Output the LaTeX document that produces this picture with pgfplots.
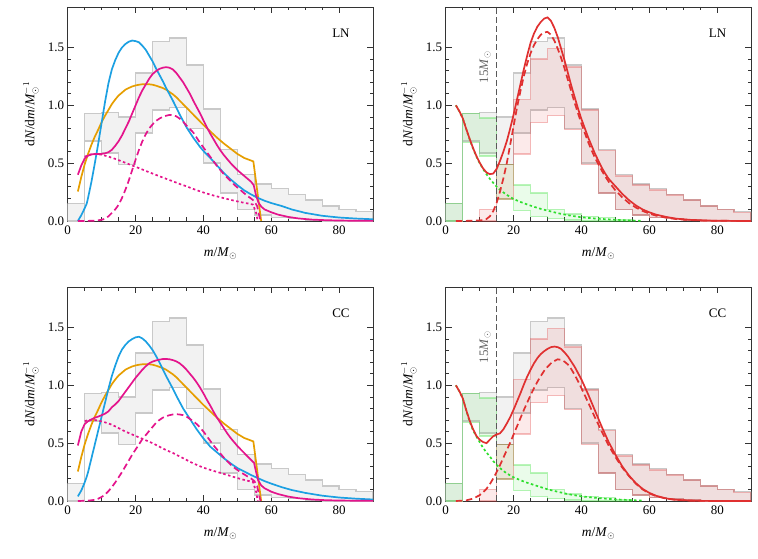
\documentclass[border=0pt]{standalone}
\usepackage{fontspec}
\setmainfont{Liberation Serif}
\usepackage{pgfplots}
\pgfplotsset{compat=1.18}
\usepackage{pgfplotstable}

\definecolor{cblue}{RGB}{28,160,226}
\definecolor{corange}{RGB}{230,158,0}
\definecolor{cmag}{RGB}{228,20,140}
\definecolor{cred}{RGB}{224,48,48}
\definecolor{cgreen}{RGB}{45,222,45}

\pgfplotstableread{
x y
0 0.15
5 0.15
5 0.93
10 0.93
10 0.94
15 0.94
15 0.90
20 0.90
20 1.28
25 1.28
25 1.55
30 1.55
30 1.58
35 1.58
35 1.35
40 1.35
40 0.97
45 0.97
45 0.62
50 0.62
50 0.40
55 0.40
55 0.32
60 0.32
60 0.28
65 0.28
65 0.23
70 0.23
70 0.18
75 0.18
75 0.13
80 0.13
80 0.10
85 0.10
85 0.08
90 0.08
90 0
75 0
75 0.01
70 0.01
70 0.02
65 0.02
65 0.03
60 0.03
60 0.05
55 0.05
55 0.10
50 0.10
50 0.24
45 0.24
45 0.50
40 0.50
40 0.80
35 0.80
35 0.98
30 0.98
30 0.96
25 0.96
25 0.76
20 0.76
20 0.49
15 0.49
15 0.59
10 0.59
10 0.69
5 0.69
5 0
0 0
}\histgray

\pgfplotstableread{
x y
0 0.15
5 0.15
5 0.93
10 0.93
10 0.89
15 0.89
15 0.49
20 0.49
20 0.31
25 0.31
25 0.24
30 0.24
30 0.10
35 0.10
35 0.06
40 0.06
40 0.04
45 0.04
45 0.03
50 0.03
50 0.015
55 0.015
55 0
40 0
40 0.01
35 0.01
35 0.02
30 0.02
30 0.04
25 0.04
25 0.09
20 0.09
20 0.19
15 0.19
15 0.56
10 0.56
10 0.68
5 0.68
5 0
0 0
}\histgreen

\pgfplotstableread{
x y
10 0.10
15 0.10
15 0.49
20 0.49
20 1.05
25 1.05
25 1.40
30 1.40
30 1.49
35 1.49
35 1.33
40 1.33
40 0.96
45 0.96
45 0.61
50 0.61
50 0.39
55 0.39
55 0.31
60 0.31
60 0.27
65 0.27
65 0.225
70 0.225
70 0.18
75 0.18
75 0.13
80 0.13
80 0.10
85 0.10
85 0.075
90 0.075
90 0
75 0
75 0.01
70 0.01
70 0.02
65 0.02
65 0.03
60 0.03
60 0.05
55 0.05
55 0.10
50 0.10
50 0.24
45 0.24
45 0.49
40 0.49
40 0.79
35 0.79
35 0.91
30 0.91
30 0.85
25 0.85
25 0.58
20 0.58
20 0.19
15 0.19
15 0
10 0
}\histred

\pgfplotstableread{
x y
3 0.255
4 0.38
5 0.49
6 0.58
7 0.66
8 0.73
9 0.79
10 0.855
11 0.91
12 0.96
13 1.01
14 1.05
15 1.085
16 1.11
17 1.135
18 1.15
19 1.163
20 1.172
21 1.178
22 1.182
23 1.183
24 1.182
25 1.178
26 1.17
27 1.16
28 1.15
29 1.135
30 1.115
31 1.095
32 1.07
33 1.04
34 1.01
35 0.98
36 0.95
37 0.92
38 0.89
39 0.86
40 0.83
42 0.775
44 0.72
46 0.67
48 0.625
50 0.58
52 0.545
54.7 0.515
57 0
}\orange

\pgfplotsset{
 panel/.style={
  scale only axis, width=305.5pt, height=214pt,
  xmin=0, xmax=90, ymin=0, ymax=1.85,
  xtick={0,20,40,60,80}, minor x tick num=3,
  ytick={0,0.5,1,1.5}, minor y tick num=4,
  tick align=inside,
  major tick length=6pt, minor tick length=3.5pt,
  tick style={draw=black!80, line width=0.6pt},
  axis line style={draw=black!80, line width=0.8pt},
  tick label style={font=\fontsize{13}{15}\selectfont},
  /pgf/number format/assume math mode=true,
  yticklabel style={/pgf/number format/fixed, /pgf/number format/fixed zerofill, /pgf/number format/precision=1},
  xticklabel style={yshift=-1pt},
  xlabel={\textit{m}/\textit{M}$_{\odot}$},
  ylabel={d\textit{N}/d\textit{m}/\textit{M}$_{\odot}^{-1}$},
  label style={font=\fontsize{13.5}{15}\selectfont},
  xlabel style={at={(axis description cs:0.5,-0.15)}, anchor=center},
  ylabel style={at={(axis description cs:-0.12,0.5)}, anchor=center},
 },
 hgray/.style={draw=black!21, fill=black!5, line width=1.5pt},
 hgreen/.style={draw=cgreen, draw opacity=0.33, fill=cgreen, fill opacity=0.1, line width=1.5pt},
 hred/.style={draw=cred, draw opacity=0.3, fill=cred, fill opacity=0.1, line width=1.5pt},
 cur/.style={line width=1.7pt, mark=none},
 dsh/.style={dash pattern=on 6.5pt off 3.5pt},
 dtt/.style={dash pattern=on 2.5pt off 2.5pt},
 vline/.style={draw=black!65, line width=1pt, dash pattern=on 6pt off 3pt},
}

\begin{document}
\begin{tikzpicture}
\path[use as bounding box] (0,0) rectangle (758pt,558pt);

% ---------------- top left (LN)
\begin{axis}[panel, at={(67.7pt,337pt)}, anchor=south west]
\addplot[hgray] table {\histgray} -- cycle;
\addplot[cur, corange] table {\orange};
\addplot[cur, cblue] coordinates {(3,0) (4,0.05) (5,0.11) (5.6,0.15) (6,0.2) (7,0.34) (8,0.5) (9,0.67) (10,0.85) (11,1.03) (12,1.19) (13,1.31) (14,1.39) (15,1.455) (16,1.5) (17,1.53) (18,1.55) (19,1.56) (20,1.555) (21,1.545) (22,1.515) (23,1.48) (24,1.43) (25,1.38) (26,1.32) (27,1.265) (28,1.21) (29,1.15) (30,1.095) (31,1.04) (32,0.98) (33,0.92) (34,0.865) (35,0.81) (36,0.765) (37,0.72) (38,0.68) (39,0.64) (40,0.605) (42,0.545) (44,0.48) (46,0.415) (48,0.36) (50,0.31) (52,0.265) (54,0.23) (56,0.2) (58,0.175) (60,0.155) (63,0.13) (66,0.1) (70,0.07) (75,0.045) (80,0.03) (85,0.021) (90,0.015)};
\addplot[cur, cmag, dtt] coordinates {(5,0.555) (6,0.57) (7,0.577) (8,0.578) (9,0.577) (10,0.573) (11,0.565) (12,0.557) (13,0.547) (14,0.537) (15,0.526) (17,0.503) (19,0.48) (21,0.457) (23,0.433) (25,0.41) (27,0.387) (29,0.365) (31,0.343) (33,0.32) (35,0.3) (37,0.277) (39,0.256) (41,0.237) (43,0.22) (45,0.205) (47,0.19) (49,0.176) (51,0.163) (53,0.152) (54.6,0.142) (55.5,0.07) (56,0)};
\addplot[cur, cmag, dsh] coordinates {(3,0) (6,0.001) (8,0.003) (10,0.01) (11,0.02) (12,0.04) (13,0.07) (14,0.1) (15,0.14) (16,0.2) (17,0.27) (18,0.35) (19,0.44) (20,0.53) (21,0.615) (22,0.69) (23,0.75) (24,0.8) (25,0.835) (26,0.865) (27,0.885) (28,0.9) (29,0.91) (30,0.917) (31,0.915) (32,0.905) (33,0.885) (34,0.86) (35,0.825) (36,0.795) (37,0.765) (38,0.72) (39,0.675) (40,0.635) (41,0.595) (42,0.555) (43,0.515) (44,0.475) (45,0.44) (46,0.405) (47,0.375) (48,0.345) (49,0.315) (50,0.29) (51,0.265) (52,0.24) (53,0.215) (54,0.195) (55,0.17) (55.8,0.13) (56.4,0.05) (56.8,0)};
\addplot[cur, cmag] coordinates {(3,0.40) (4,0.48) (5,0.54) (6,0.565) (7,0.575) (8,0.58) (9,0.58) (10,0.58) (11,0.585) (12,0.595) (13,0.615) (14,0.65) (15,0.69) (16,0.74) (17,0.8) (18,0.86) (19,0.93) (20,1.0) (21,1.07) (22,1.13) (23,1.18) (24,1.23) (25,1.27) (26,1.295) (27,1.315) (28,1.325) (29,1.33) (30,1.325) (31,1.31) (32,1.28) (33,1.24) (34,1.2) (35,1.15) (36,1.1) (37,1.04) (38,0.985) (39,0.93) (40,0.87) (41,0.81) (42,0.755) (43,0.705) (44,0.655) (45,0.61) (46,0.57) (47,0.535) (48,0.5) (49,0.47) (50,0.44) (51,0.415) (52,0.39) (53,0.365) (54,0.34) (54.8,0.31) (55.5,0.22) (56.2,0.16) (57,0.125) (58,0.1) (60,0.075) (62,0.055) (65,0.035) (68,0.022) (72,0.012) (76,0.007) (80,0.004) (85,0.002) (90,0.001)};
\node[font=\fontsize{13}{15}\selectfont] at (axis cs:80.5,1.625) {LN};
\end{axis}

% ---------------- top right (LN)
\begin{axis}[panel, at={(445.7pt,337pt)}, anchor=south west]
\addplot[hgray] table {\histgray} -- cycle;
\addplot[hgreen] table {\histgreen} -- cycle;
\addplot[hred] table {\histred} -- cycle;
\addplot[vline] coordinates {(15,0) (15,1.85)};
\addplot[cur, cgreen, dtt] coordinates {(3,1.0) (4,0.95) (5,0.89) (6,0.8) (7,0.71) (8,0.63) (9,0.56) (10,0.5) (11,0.45) (12,0.405) (13,0.365) (14,0.33) (15,0.297) (16,0.27) (17,0.247) (18,0.226) (20,0.19) (22,0.165) (24,0.143) (26,0.123) (28,0.105) (30,0.09) (33,0.068) (36,0.05) (40,0.032) (45,0.019) (50,0.011) (55,0.004) (58,0.001)};
\addplot[cur, cred, dsh] coordinates {(3,0) (8,0.002) (10,0.005) (11,0.008) (12,0.017) (13,0.04) (14,0.085) (15,0.155) (16,0.255) (17,0.37) (18,0.5) (19,0.66) (20,0.82) (21,0.98) (22,1.12) (23,1.25) (24,1.36) (25,1.45) (26,1.52) (27,1.57) (28,1.61) (29,1.63) (30,1.635) (31,1.61) (32,1.56) (33,1.49) (34,1.41) (35,1.32) (36,1.22) (37,1.12) (38,1.02) (39,0.93) (40,0.84) (41,0.76) (42,0.68) (43,0.61) (44,0.545) (45,0.49) (46,0.435) (47,0.385) (48,0.34) (50,0.265) (52,0.205) (54,0.155) (56,0.117) (58,0.087) (60,0.064) (62,0.046) (65,0.028) (68,0.016) (72,0.008) (76,0.004) (80,0.002) (90,0)};
\addplot[cur, cred] coordinates {(3,1.0) (4,0.95) (5,0.89) (6,0.80) (7,0.715) (8,0.635) (9,0.565) (10,0.505) (11,0.455) (12,0.42) (13,0.405) (14,0.41) (15,0.45) (16,0.52) (17,0.6) (18,0.69) (19,0.8) (20,0.92) (21,1.05) (22,1.18) (23,1.31) (24,1.43) (25,1.54) (26,1.62) (27,1.68) (28,1.72) (29,1.75) (30,1.76) (31,1.73) (32,1.67) (33,1.59) (34,1.49) (35,1.39) (36,1.28) (37,1.17) (38,1.07) (39,0.97) (40,0.88) (41,0.8) (42,0.72) (43,0.65) (44,0.58) (45,0.52) (46,0.46) (47,0.41) (48,0.365) (50,0.3) (52,0.235) (54,0.18) (56,0.135) (58,0.1) (60,0.075) (62,0.055) (65,0.035) (68,0.02) (72,0.01) (76,0.005) (80,0.002) (90,0)};
\node[font=\fontsize{13}{15}\selectfont] at (axis cs:80.1,1.625) {LN};
\node[font=\fontsize{13}{15}\selectfont, text=black!60, rotate=90] at (axis cs:11.6,1.33) {15\textit{M}$_{\odot}$};
\end{axis}

% ---------------- bottom left (CC)
\begin{axis}[panel, at={(67.7pt,57pt)}, anchor=south west]
\addplot[hgray] table {\histgray} -- cycle;
\addplot[cur, corange] table {\orange};
\addplot[cur, cblue] coordinates {(3,0.04) (4,0.09) (5,0.16) (5.6,0.21) (6,0.25) (7,0.37) (8,0.49) (9,0.61) (10,0.73) (11,0.85) (12,0.97) (13,1.08) (14,1.17) (15,1.25) (16,1.31) (17,1.35) (18,1.38) (19,1.4) (20,1.415) (21,1.42) (22,1.405) (23,1.38) (24,1.345) (25,1.305) (26,1.255) (27,1.2) (28,1.14) (29,1.08) (30,1.025) (31,0.97) (32,0.91) (33,0.855) (34,0.8) (35,0.755) (36,0.71) (37,0.665) (38,0.62) (39,0.58) (40,0.54) (42,0.47) (44,0.42) (46,0.37) (48,0.325) (50,0.285) (52,0.255) (54,0.225) (56,0.198) (58,0.172) (60,0.15) (63,0.12) (66,0.095) (70,0.07) (75,0.046) (80,0.03) (85,0.02) (90,0.013)};
\addplot[cur, cmag, dtt] coordinates {(5,0.69) (6,0.7) (7,0.702) (8,0.7) (9,0.695) (10,0.688) (11,0.68) (12,0.67) (13,0.66) (14,0.645) (15,0.63) (17,0.6) (19,0.575) (21,0.55) (23,0.525) (25,0.5) (27,0.47) (29,0.44) (31,0.415) (33,0.385) (35,0.355) (37,0.325) (39,0.3) (41,0.278) (43,0.26) (45,0.243) (47,0.225) (49,0.207) (51,0.19) (53,0.175) (54.6,0.165) (55.5,0.08) (56,0)};
\addplot[cur, cmag, dsh] coordinates {(3,0) (6,0.003) (8,0.01) (9,0.02) (10,0.035) (11,0.055) (12,0.085) (13,0.12) (14,0.16) (15,0.205) (16,0.25) (17,0.3) (18,0.35) (19,0.4) (20,0.445) (21,0.49) (22,0.535) (23,0.57) (24,0.605) (25,0.64) (26,0.675) (27,0.7) (28,0.72) (29,0.733) (30,0.742) (31,0.748) (32,0.75) (33,0.748) (34,0.742) (35,0.73) (36,0.71) (37,0.69) (38,0.665) (39,0.635) (40,0.6) (41,0.56) (42,0.52) (43,0.48) (44,0.445) (45,0.41) (46,0.375) (47,0.345) (48,0.315) (49,0.29) (50,0.268) (51,0.248) (52,0.23) (53,0.212) (54,0.195) (55,0.172) (55.8,0.13) (56.4,0.05) (56.8,0)};
\addplot[cur, cmag] coordinates {(3,0.48) (4,0.6) (5,0.665) (6,0.69) (7,0.705) (8,0.72) (9,0.73) (10,0.742) (11,0.755) (12,0.775) (13,0.81) (14,0.835) (15,0.865) (16,0.905) (17,0.945) (18,0.985) (19,1.025) (20,1.065) (21,1.1) (22,1.135) (23,1.165) (24,1.19) (25,1.205) (26,1.215) (27,1.222) (28,1.227) (29,1.228) (30,1.225) (31,1.218) (32,1.207) (33,1.19) (34,1.165) (35,1.135) (36,1.1) (37,1.065) (38,1.025) (39,0.98) (40,0.93) (41,0.875) (42,0.825) (43,0.77) (44,0.72) (45,0.675) (46,0.63) (47,0.585) (48,0.545) (49,0.51) (50,0.475) (51,0.445) (52,0.415) (53,0.385) (54,0.355) (54.9,0.33) (55.5,0.25) (56.1,0.18) (57,0.135) (58,0.11) (60,0.08) (62,0.06) (65,0.038) (68,0.024) (72,0.013) (76,0.007) (80,0.004) (90,0.001)};
\node[font=\fontsize{13}{15}\selectfont] at (axis cs:80.5,1.625) {CC};
\end{axis}

% ---------------- bottom right (CC)
\begin{axis}[panel, at={(445.7pt,57pt)}, anchor=south west]
\addplot[hgray] table {\histgray} -- cycle;
\addplot[hgreen] table {\histgreen} -- cycle;
\addplot[hred] table {\histred} -- cycle;
\addplot[vline] coordinates {(15,0) (15,1.85)};
\addplot[cur, cgreen, dtt] coordinates {(3,1.0) (4,0.95) (5,0.89) (6,0.79) (7,0.69) (8,0.615) (9,0.56) (10,0.51) (11,0.46) (12,0.42) (13,0.385) (14,0.345) (15,0.312) (16,0.285) (17,0.26) (18,0.238) (20,0.205) (22,0.18) (24,0.158) (26,0.139) (28,0.12) (30,0.101) (33,0.08) (36,0.06) (40,0.04) (45,0.025) (50,0.014) (55,0.007) (58,0.003)};
\addplot[cur, cred, dsh] coordinates {(3,0) (6,0.005) (8,0.02) (10,0.05) (11,0.075) (12,0.105) (13,0.145) (14,0.195) (15,0.25) (16,0.31) (17,0.375) (18,0.44) (19,0.505) (20,0.575) (21,0.645) (22,0.715) (23,0.785) (24,0.85) (25,0.915) (26,0.975) (27,1.03) (28,1.08) (29,1.125) (30,1.16) (31,1.19) (32,1.21) (33,1.225) (34,1.22) (35,1.205) (36,1.18) (37,1.14) (38,1.09) (39,1.035) (40,0.975) (42,0.85) (44,0.72) (46,0.6) (48,0.48) (50,0.38) (52,0.29) (54,0.215) (56,0.15) (58,0.1) (60,0.066) (62,0.042) (65,0.02) (68,0.009) (72,0.003) (76,0.001) (90,0)};
\addplot[cur, cred] coordinates {(3,1.0) (4,0.95) (5,0.89) (6,0.79) (7,0.70) (8,0.625) (9,0.565) (10,0.53) (11,0.51) (12,0.50) (13,0.53) (14,0.56) (15,0.575) (16,0.585) (17,0.62) (18,0.67) (19,0.725) (20,0.79) (21,0.86) (22,0.93) (23,1.005) (24,1.075) (25,1.135) (26,1.19) (27,1.235) (28,1.27) (29,1.295) (30,1.315) (31,1.33) (32,1.335) (33,1.33) (34,1.315) (35,1.285) (36,1.25) (38,1.16) (40,1.05) (42,0.92) (44,0.78) (46,0.64) (48,0.51) (50,0.40) (52,0.30) (54,0.22) (56,0.155) (58,0.105) (60,0.07) (62,0.045) (65,0.022) (68,0.01) (72,0.004) (76,0.001) (90,0)};
\node[font=\fontsize{13}{15}\selectfont] at (axis cs:80.1,1.625) {CC};
\node[font=\fontsize{13}{15}\selectfont, text=black!60, rotate=90] at (axis cs:11.6,1.33) {15\textit{M}$_{\odot}$};
\end{axis}
\end{tikzpicture}
\end{document}
